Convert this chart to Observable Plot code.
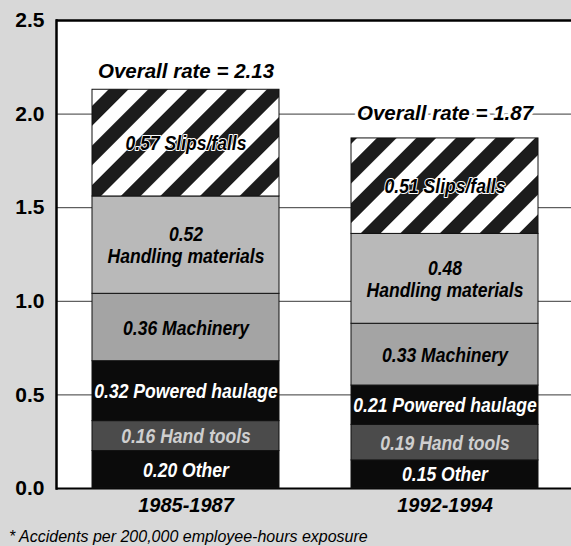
<!DOCTYPE html>
<html>
<head>
<meta charset="utf-8">
<script src="https://cdn.jsdelivr.net/npm/d3@7"></script>
<script src="https://cdn.jsdelivr.net/npm/@observablehq/plot@0.6"></script>
<style>
  html, body { margin: 0; padding: 0; background: #d8d8d8; }
  #chart { width: 571px; }
  #chart svg { display: block; background: #d8d8d8; }
  g[aria-label="x-axis tick label"] text { font-weight: bold; font-style: italic; }
  g[aria-label="y-axis tick label"] text { font-weight: bold; }
  .caption {
    font-family: "Liberation Sans", Arial, sans-serif;
    font-style: italic; font-size: 16px; line-height: 20px;
    padding: 7px 0 0 9px; color: #000; height: 19px;
  }
</style>
</head>
<body>
<div id="chart"></div>
<div class="caption">* Accidents per 200,000 employee-hours exposure</div>
<script>
const periods = ["1985-1987", "1992-1994"];
const categories = ["Other", "Hand tools", "Powered haulage", "Machinery", "Handling materials", "Slips/falls"];
const rates1985 = [0.20, 0.16, 0.32, 0.36, 0.52, 0.57];
const rates1992 = [0.15, 0.19, 0.21, 0.33, 0.48, 0.51];
const overall = [2.13, 1.87];
const yTicks = [0, 0.5, 1.0, 1.5, 2.0, 2.5];
const gridValues = [0.5, 1.0, 1.5, 2.0];

const fillOf = {
  "Other": "#0b0b0b",
  "Hand tools": "#4b4b4b",
  "Powered haulage": "#0b0b0b",
  "Machinery": "#a4a4a4",
  "Handling materials": "#b9b9b9",
  "Slips/falls": "url(#stripes)"
};
const textOf = {
  "Other": "#ffffff",
  "Hand tools": "#cfcfcf",
  "Powered haulage": "#ffffff",
  "Machinery": "#000000",
  "Handling materials": "#000000",
  "Slips/falls": "#000000"
};

const rows = [];
periods.forEach((p, i) => {
  const vals = i === 0 ? rates1985 : rates1992;
  let acc = 0;
  categories.forEach((c, j) => {
    const v = vals[j];
    rows.push({
      period: p, category: c, value: v, y1: acc, y2: acc + v, mid: acc + v / 2,
      label: c === "Handling materials" ? `${v.toFixed(2)}\n${c}` : `${v.toFixed(2)} ${c}`
    });
    acc += v;
  });
});
const totals = periods.map((p, i) => ({period: p, total: overall[i]}));

const font = '"Liberation Sans", Arial, sans-serif';

const chart = Plot.plot({
  width: 571,
  height: 520,
  marginLeft: 56,
  marginRight: 0,
  marginTop: 20,
  marginBottom: 32,
  style: { fontFamily: font, background: "#d8d8d8", color: "#000" },
  x: { domain: periods, paddingInner: 0.277, paddingOuter: 0.13, align: 0.52, label: null },
  y: { domain: [0, 2.5], ticks: yTicks, label: null },
  color: { type: "identity" },
  marks: [
    Plot.frame({ fill: "white", stroke: "none" }),
    Plot.ruleY(gridValues, { stroke: "#222", strokeWidth: 0.9 }),
    Plot.ruleY([0], { stroke: "#000", strokeWidth: 2 }),
    Plot.ruleY([2.5], { stroke: "#000", strokeWidth: 2.5 }),
    Plot.frame({ anchor: "left", stroke: "#000", strokeWidth: 2.5 }),
    Plot.barY(rows, {
      x: "period", y1: "y1", y2: "y2",
      fill: d => fillOf[d.category],
      stroke: "#111", strokeWidth: 1
    }),
    Plot.text(rows, {
      x: "period", y: "mid", text: "label",
      fill: d => textOf[d.category],
      stroke: d => d.category === "Slips/falls" ? "white" : "none",
      strokeWidth: 2,
      fontSize: 19.5, fontWeight: "bold", fontStyle: "italic", lineHeight: 1.12
    }),
    Plot.text(totals.slice(0, 1), {
      x: "period", y: "total", text: d => `Overall rate = ${d.total.toFixed(2)}`,
      dy: -18, fill: "#000", stroke: "white", strokeWidth: 6,
      fontSize: 20.5, fontWeight: "bold", fontStyle: "italic"
    }),
    Plot.text(totals.slice(1), {
      x: "period", y: "total", text: d => `Overall rate = ${d.total.toFixed(2)}`,
      dy: -25, fill: "#000", stroke: "white", strokeWidth: 6,
      fontSize: 20.5, fontWeight: "bold", fontStyle: "italic"
    }),
    Plot.axisY({ ticks: yTicks, tickSize: 0, tickPadding: 12, fontSize: 21, tickFormat: d => d.toFixed(1) }),
    Plot.axisX({ tickSize: 0, tickPadding: 9, fontSize: 20 })
  ]
});

const defs = document.createElementNS("http://www.w3.org/2000/svg", "defs");
defs.innerHTML = `
  <pattern id="stripes" patternUnits="userSpaceOnUse" width="28" height="28" patternTransform="rotate(45)">
    <rect width="28" height="28" fill="#ffffff"></rect>
    <rect width="14" height="28" fill="#1c1c1c"></rect>
  </pattern>`;
chart.insertBefore(defs, chart.firstChild);

// condense the segment labels horizontally (condensed typeface look)
const segGroup = chart.querySelectorAll('g[aria-label="text"]')[0];
if (segGroup) {
  segGroup.querySelectorAll("text").forEach(t => {
    const tr = t.getAttribute("transform");
    if (tr && tr.includes("translate")) {
      t.setAttribute("transform", tr + " scale(0.9,1)");
    } else {
      const x = +t.getAttribute("x") || 0, y = +t.getAttribute("y") || 0;
      t.setAttribute("transform", `translate(${x},${y}) scale(0.9,1) translate(${-x},${-y})`);
    }
  });
}
document.getElementById("chart").appendChild(chart);
</script>
</body>
</html>
